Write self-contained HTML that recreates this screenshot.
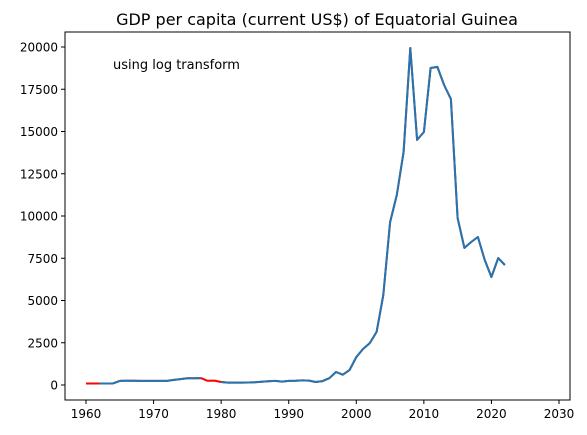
<!DOCTYPE html>
<html><head><meta charset="utf-8"><style>
body{margin:0;background:#fff;}
svg{display:block;font-family:"DejaVu Sans","Liberation Sans",sans-serif;}
</style></head><body>
<svg id="chart" width="587" height="435"></svg>
<script>
const years=[];for(let y=1960;y<=2022;y++)years.push(y);
const interpValues=[90,90,90,90,95,240,250,250,245,240,240,240,245,300,350,400,400,410,250,260,180,140,140,140,145,160,190,220,240,200,240,250,270,260,180,230,400,770,610,880,1650,2130,2480,3140,5320,9640,11240,13790,19940,14500,14970,18760,18820,17750,16920,9880,8110,8460,8760,7400,6390,7510,7100];
const rawValues=[null,null,90,90,95,240,250,250,245,240,240,240,245,300,350,400,400,410,null,null,180,140,140,140,145,160,190,220,240,200,240,250,270,260,180,230,400,770,610,880,1650,2130,2480,3140,5320,9640,11240,13790,19940,14500,14970,18760,18820,17750,16920,9880,8110,8460,8760,7400,6390,7510,7100];
const xTicks=[1960,1970,1980,1990,2000,2010,2020,2030];
const yTicks=[0,2500,5000,7500,10000,12500,15000,17500,20000];
const NS="http://www.w3.org/2000/svg";
const svg=document.getElementById('chart');
const L=65,R=570,T=32,B=400;
const xs=v=>86+(v-1960)*(559-86)/70;
const ys=v=>385-v*(385-47)/20000;
function mk(t,a,p){const e=document.createElementNS(NS,t);for(const k in a)e.setAttribute(k,a[k]);(p||svg).appendChild(e);return e;}
const frame=mk('rect',{x:L,y:T,width:R-L,height:B-T,fill:'none',stroke:'#000','stroke-width':1});


xTicks.forEach(v=>{
 const g=mk('g',{});
 
 
 mk('line',{x1:xs(v),x2:xs(v),y1:B,y2:B+4,stroke:'#000'},g);
 const t=mk('text',{x:xs(v),y:B+18,'text-anchor':'middle','font-size':12},g);t.textContent=v;
});
yTicks.forEach(v=>{
 const g=mk('g',{});
 
 
 mk('line',{x1:L-4,x2:L,y1:ys(v),y2:ys(v),stroke:'#000'},g);
 const t=mk('text',{x:L-7,y:ys(v)+4.5,'text-anchor':'end','font-size':12},g);t.textContent=v;
});
function path(vals){let d='',pen=false;vals.forEach((v,i)=>{if(v==null){pen=false;return;}d+=(pen?'L':'M')+xs(years[i]).toFixed(1)+','+ys(v).toFixed(1);pen=true;});return d;}
const red=mk('path',{d:path(interpValues),fill:'none',stroke:'#ff0000','stroke-width':2,'stroke-linejoin':'round'});


const blue=mk('path',{d:path(rawValues),fill:'none',stroke:'#1f77b4','stroke-width':2,'stroke-linejoin':'round'});


const title=mk('text',{x:317,y:25,'text-anchor':'middle','font-size':16});
title.textContent='GDP per capita (current US$) of Equatorial Guinea';


const note=mk('text',{x:113,y:69,'font-size':13});
note.textContent='using log transform';


</script>
</body></html>
